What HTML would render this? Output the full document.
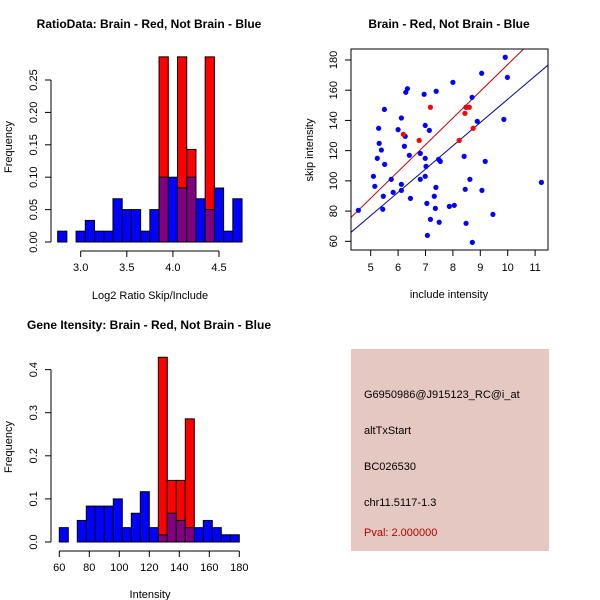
<!DOCTYPE html>
<html><head><meta charset="utf-8"><style>
body{margin:0;background:#fff}
svg{display:block;font-family:"Liberation Sans",sans-serif}
</style></head><body>
<svg id="s" width="600" height="600" xmlns="http://www.w3.org/2000/svg">
<rect width="600" height="600" fill="#fff"/>
<text x="149" y="28" font-size="12" font-weight="bold" text-anchor="middle">RatioData: Brain - Red, Not Brain - Blue</text>
<text x="150" y="299" font-size="11" text-anchor="middle">Log2 Ratio Skip/Include</text>
<text transform="translate(12,147) rotate(-90)" font-size="11" text-anchor="middle">Frequency</text>
<text x="449" y="28" font-size="12" font-weight="bold" text-anchor="middle">Brain - Red, Not Brain - Blue</text>
<text x="449" y="298" font-size="11" text-anchor="middle">include intensity</text>
<text transform="translate(313,150) rotate(-90)" font-size="11" text-anchor="middle">skip intensity</text>
<text x="149" y="329" font-size="12" font-weight="bold" text-anchor="middle">Gene Itensity: Brain - Red, Not Brain - Blue</text>
<text x="150" y="598" font-size="11" text-anchor="middle">Intensity</text>
<text transform="translate(12,447) rotate(-90)" font-size="11" text-anchor="middle">Frequency</text>
<g>
<rect x="351" y="349" width="198" height="202" fill="#E6C8C2"/>
<text x="364" y="398" font-size="11">G6950986@J915123_RC@i_at</text>
<text x="364" y="434" font-size="11">altTxStart</text>
<text x="364" y="470" font-size="11">BC026530</text>
<text x="364" y="506" font-size="11">chr11.5117-1.3</text>
<text x="364" y="536" font-size="11" fill="#B00000">Pval: 2.000000</text>
</g>
</svg>
<script>
// Ratio histogram
const ratioStart = 2.75, ratioBin = 0.1;
const ratioBlue = [0.0167,0,0.0167,0.0333,0.0167,0.0167,0.0667,0.05,0.05,0.0167,0.05,0.1,0.1,0.0833,0.1,0.0667,0.05,0.0833,0.0167,0.0667];
const ratioRed = [0,0,0,0,0,0,0,0,0,0,0,0.2857,0,0.2857,0.1429,0,0.2857,0,0,0];
const ratioXTicks = [3.0,3.5,4.0,4.5];
const ratioYTicks = [0,0.05,0.10,0.15,0.20,0.25];
// Gene histogram
const geneStart = 60, geneBin = 6;
const geneBlue = [0.0333,0,0.05,0.0833,0.0833,0.0833,0.1,0.0333,0.0667,0.1167,0.0333,0.0167,0.0667,0.05,0.0333,0.0333,0.05,0.0333,0.0167,0.0167];
const geneRed = [0,0,0,0,0,0,0,0,0,0,0,0.4286,0.1429,0.1429,0.2857,0,0,0,0,0];
const geneXTicks = [60,80,100,120,140,160,180];
const geneYTicks = [0,0.1,0.2,0.3,0.4];
// Scatter
const blueX = [4.55,5.10,5.15,5.24,5.29,5.31,5.39,5.44,5.46,5.50,5.51,5.75,5.82,6.00,6.12,6.12,6.12,6.23,6.26,6.28,6.34,6.41,6.45,6.81,6.81,6.95,6.99,6.99,6.99,7.02,7.05,7.07,7.14,7.18,7.32,7.36,7.38,7.39,7.48,7.50,7.54,7.87,8.00,8.05,8.41,8.45,8.48,8.48,8.62,8.70,8.71,8.89,9.05,9.06,9.18,9.46,9.86,9.91,9.99,11.23];
const blueY = [80.5,103,96.4,114.9,134.8,124.8,120.4,81.2,89.8,147.3,110.9,101,92.4,133.9,141.6,97.7,93.7,122.9,129.5,158.6,161,116.9,88.4,118.2,101,157.3,136.7,114.9,103,109.6,85.1,63.9,133.4,74.5,89.8,81.8,95.7,159.3,114.2,72.6,112.9,83.1,165.2,83.8,116.2,94.4,71.9,148.7,101,155.3,59.3,139.4,171.2,93.7,112.9,77.8,140.7,181.8,168.5,99];
const redX = [6.19,6.77,7.18,8.23,8.44,8.50,8.60,8.74];
const redY = [130.8,126.8,148.7,126.8,144.7,148.7,148.7,134.8];
const redSlope = 17.7, blueSlope = 15.4;
const scXTicks = [5,6,7,8,9,10,11];
const scYTicks = [60,80,100,120,140,160,180];

const NS="http://www.w3.org/2000/svg", svg=document.getElementById('s');
function mk(t,a,p){const e=document.createElementNS(NS,t);for(const k in a)e.setAttribute(k,a[k]);(p||svg).appendChild(e);return e;}

function hist(start,bin,blue,red,xt,yt,sx,sy,axisY,prefix){
  const g=mk('g',{});
  
  
  red.forEach((v,i)=>{ if(v<=0)return;
    const x0=sx(start+i*bin),x1=sx(start+(i+1)*bin);
    const r=mk('rect',{x:x0,y:sy(v),width:x1-x0,height:sy(0)-sy(v),fill:'#FF0000',stroke:'#000','stroke-width':1},g);
    
    
  });
  blue.forEach((v,i)=>{ if(v<=0)return;
    const x0=sx(start+i*bin),x1=sx(start+(i+1)*bin);
    const c=red[i]>0?'#800080':'#0000FF';
    const r=mk('rect',{x:x0,y:sy(v),width:x1-x0,height:sy(0)-sy(v),fill:c,stroke:'#000','stroke-width':1},g);
    
    
  });
  const ax=mk('g',{stroke:'#000','stroke-width':1},g);
  
  
  mk('line',{x1:sx(xt[0]),x2:sx(xt[xt.length-1]),y1:axisY,y2:axisY},ax);
  xt.forEach(t=>{mk('line',{x1:sx(t),x2:sx(t),y1:axisY,y2:axisY+6},ax);
    const l=mk('text',{x:sx(t),y:axisY+20,'font-size':11,'text-anchor':'middle'},g);l.textContent=String(t%1===0&&prefix==='ratio'?t.toFixed(1):t);
    
    });
  mk('line',{x1:51,x2:51,y1:sy(yt[0]),y2:sy(yt[yt.length-1])},ax);
  yt.forEach(t=>{mk('line',{x1:45,x2:51,y1:sy(t),y2:sy(t)},ax);
    const l=mk('text',{transform:`translate(37,${sy(t)}) rotate(-90)`,'font-size':11,'text-anchor':'middle'},g);
    l.textContent=prefix==='ratio'?t.toFixed(2):t.toFixed(1);
    
    });
}
hist(ratioStart,ratioBin,ratioBlue,ratioRed,ratioXTicks,ratioYTicks,
  v=>80.7+(v-3)*92.2, v=>242-v*648, 251,'ratio');
hist(geneStart,geneBin,geneBlue,geneRed,geneXTicks,geneYTicks,
  v=>59.3+(v-60)*1.5, v=>542-v*431, 551,'gene');

// scatter
const sx=v=>370.7+(v-5)*27.4, sy=v=>241.3-(v-60)*1.511;
const sg=mk('g',{});


mk('defs',{},sg).innerHTML='<clipPath id="cp"><rect x="351" y="49" width="197" height="201"/></clipPath>';
const fx0=4.2, fx1=11.5;
const rl=mk('line',{x1:sx(fx0),y1:sy(redSlope*fx0),x2:sx(fx1),y2:sy(redSlope*fx1),stroke:'#C00000','clip-path':'url(#cp)'},sg);


const bl=mk('line',{x1:sx(fx0),y1:sy(blueSlope*fx0),x2:sx(fx1),y2:sy(blueSlope*fx1),stroke:'#0000A0','clip-path':'url(#cp)'},sg);


blueX.forEach((x,i)=>{const c=mk('circle',{cx:sx(x),cy:sy(blueY[i]),r:2.6,fill:'#0000FF'},sg);
  
  });
redX.forEach((x,i)=>{const c=mk('circle',{cx:sx(x),cy:sy(redY[i]),r:2.6,fill:'#FF0000'},sg);
  
  });
mk('rect',{x:351,y:49,width:197,height:201,fill:'none',stroke:'#000'},sg);
scXTicks.forEach(t=>{mk('line',{x1:sx(t),x2:sx(t),y1:250,y2:256,stroke:'#000'},sg);
  const l=mk('text',{x:sx(t),y:271,'font-size':11,'text-anchor':'middle'},sg);l.textContent=t;
  
  });
scYTicks.forEach(t=>{mk('line',{x1:345,x2:351,y1:sy(t),y2:sy(t),stroke:'#000'},sg);
  const l=mk('text',{transform:`translate(337,${sy(t)}) rotate(-90)`,'font-size':11,'text-anchor':'middle'},sg);l.textContent=t;
  
  });
</script>
</body></html>
